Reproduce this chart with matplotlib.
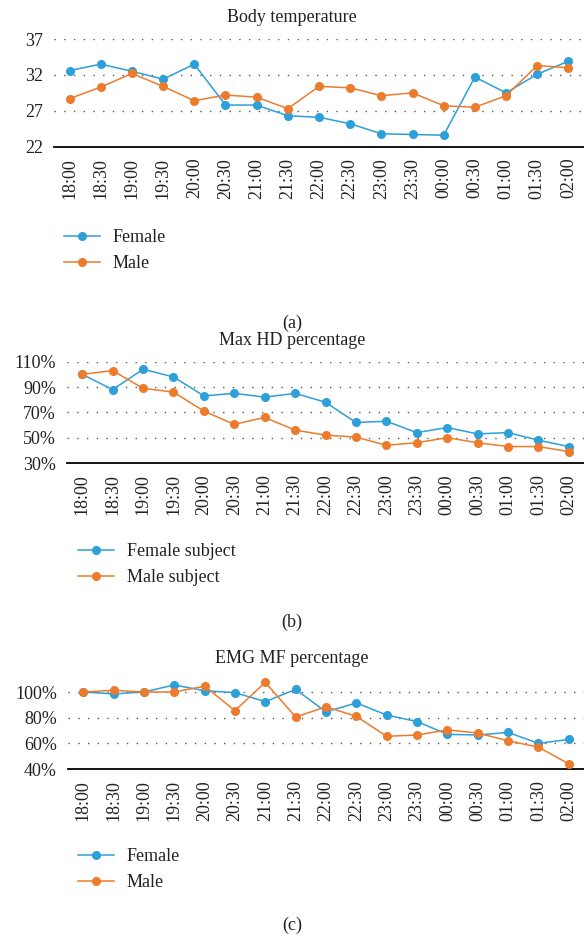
import matplotlib
matplotlib.use("Agg")
import matplotlib.pyplot as plt
from matplotlib.ticker import FuncFormatter

plt.rcParams['font.family'] = ['Liberation Serif', 'DejaVu Serif']

times = ["18:00", "18:30", "19:00", "19:30", "20:00", "20:30", "21:00", "21:30",
         "22:00", "22:30", "23:00", "23:30", "00:00", "00:30", "01:00", "01:30", "02:00"]

# (a) body temperature
temp_female = [32.6, 33.5, 32.5, 31.4, 33.5, 27.8, 27.8, 26.3, 26.1, 25.2, 23.8,
               23.7, 23.6, 31.7, 29.5, 32.1, 33.9]
temp_male = [28.7, 30.3, 32.2, 30.4, 28.4, 29.2, 28.9, 27.3, 30.4, 30.2, 29.1,
             29.5, 27.7, 27.5, 29.1, 33.3, 33.0]

# (b) max HD percentage
hd_female = [100, 88, 104, 98, 83, 85, 82, 85, 78, 62, 63, 54, 58, 53, 54, 48, 43]
hd_male = [100, 103, 89, 86, 71, 60.5, 66, 56, 52, 50.5, 44, 46, 50, 46, 43, 43, 39]

# (c) EMG MF percentage
mf_female = [100, 98.5, 100, 105.5, 101, 99.5, 92.5, 102, 84.5, 91.5, 82, 77,
             67, 66.5, 68.5, 60, 63]
mf_male = [100, 101.3, 100, 100, 104.5, 85.5, 107.5, 80.5, 88.5, 81, 65.5, 66.5,
           70.5, 68, 62, 57, 44]

BLUE = "#2D9FD9"
ORANGE = "#EE7B2C"
FS = 13
H = 938.0
W = 584.0

fig = plt.figure(figsize=(5.84, 9.38), dpi=100)


def panel(left, top, bottom, ylim, yticks, fmt, title, title_y, fem, mal, labels,
          leg_x, leg_y, cap, cap_y):
    ax = fig.add_axes([left / W, 1 - bottom / H, 1 - left / W, (bottom - top) / H])
    x = range(len(times))
    ax.plot(x, fem, color=BLUE, marker="o", ms=5.5, lw=1.1, label=labels[0], clip_on=False, zorder=3)
    ax.plot(x, mal, color=ORANGE, marker="o", ms=5.5, lw=1.1, label=labels[1], clip_on=False, zorder=3)
    ax.set_xlim(-0.5, len(times) - 0.5)
    ax.set_ylim(*ylim)
    ax.set_yticks(yticks)
    ax.yaxis.set_major_formatter(FuncFormatter(fmt))
    ax.set_xticks(list(x))
    ax.set_xticklabels(times, rotation=90)
    for t in yticks[1:]:
        ax.axhline(t, color="#555555", lw=1, ls=(0, (1, 6)), zorder=1)
    for s in ["top", "right", "left"]:
        ax.spines[s].set_visible(False)
    ax.spines["bottom"].set_color("black")
    ax.spines["bottom"].set_linewidth(1.3)
    ax.tick_params(axis="both", length=0, labelsize=FS, colors="#222222")
    ax.tick_params(axis="y", pad=8)
    ax.tick_params(axis="x", pad=8)
    fig.text(0.5, 1 - title_y / H, title, ha="center", va="center", fontsize=FS, color="#222222")
    ax.legend(loc="upper left", bbox_to_anchor=(leg_x / W, 1 - (leg_y - 10) / H),
              bbox_transform=fig.transFigure, frameon=False, fontsize=FS,
              handlelength=2.0, handletextpad=0.7, labelspacing=0.5,
              borderpad=0, borderaxespad=0, labelcolor="#222222")
    fig.text(0.5, 1 - cap_y / H, cap, ha="center", va="center", fontsize=FS, color="#222222")
    return ax


panel(54, 39, 146.7, (22, 37), [22, 27, 32, 37], lambda v, p: "%d" % v,
      "Body temperature", 18, temp_female, temp_male, ["Female", "Male"],
      64, 239, "(a)", 323)

panel(67, 361.7, 463, (30, 110), [30, 50, 70, 90, 110], lambda v, p: "%d%%" % v,
      "Max HD percentage", 340, hd_female, hd_male, ["Female subject", "Male subject"],
      78, 553, "(b)", 622)

pct = 77.0 / 60
panel(68, 692 - 12 * pct, 769, (40, 112), [40, 60, 80, 100], lambda v, p: "%d%%" % v,
      "EMG MF percentage", 658, mf_female, mf_male, ["Female", "Male"],
      78, 858, "(c)", 925)

fig.savefig("out.png", dpi=100)
